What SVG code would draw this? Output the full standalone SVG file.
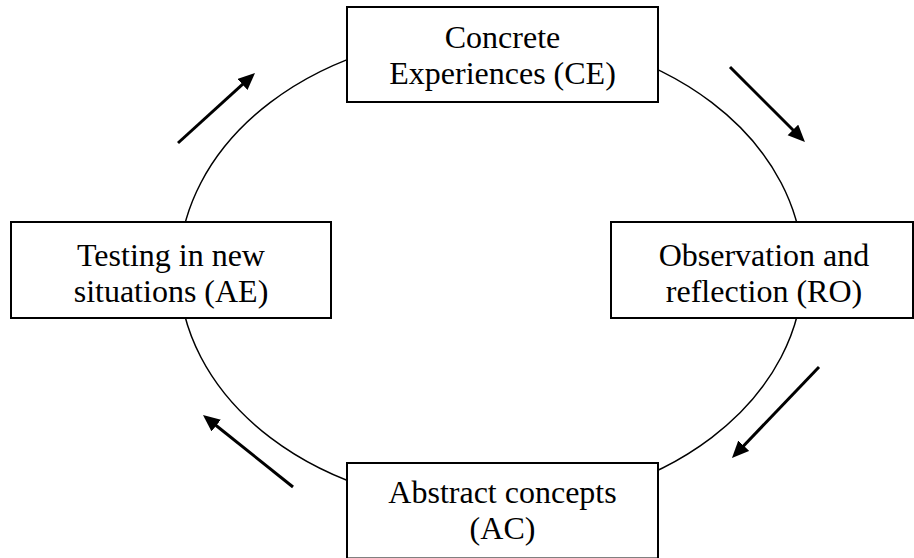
<svg xmlns="http://www.w3.org/2000/svg" width="914" height="558" viewBox="0 0 914 558">
  <style>
    .box { fill: #ffffff; stroke: #000000; stroke-width: 2; }
    .label { font-family: "Liberation Serif", "Times New Roman", serif; font-size: 32px; fill: #000000; text-anchor: middle; }
    .cycle { fill: none; stroke: #000000; stroke-width: 1.5; }
    .arrow { fill: none; stroke: #000000; stroke-width: 3; marker-end: url(#head); }
  </style>
  <defs>
    <marker id="head" markerUnits="userSpaceOnUse" markerWidth="18" markerHeight="16" refX="9" refY="7.5" orient="auto">
      <path d="M0,0 L17,7.5 L0,15 Z" fill="#000000"/>
    </marker>
  </defs>
  <rect width="914" height="558" fill="#ffffff"/>

  <g id="connectors">
    <ellipse class="cycle" cx="491" cy="270" rx="312" ry="237"/>
    <line class="arrow" x1="178" y1="143" x2="249.1" y2="78.4"/>
    <line class="arrow" x1="730" y1="67" x2="799.3" y2="136.3"/>
    <line class="arrow" x1="819" y1="367" x2="737.5" y2="452.2"/>
    <line class="arrow" x1="293" y1="487" x2="209.2" y2="420"/>
  </g>

  <g id="node-ce">
    <rect class="box" x="347" y="7" width="311" height="95"/>
    <text class="label" x="502.5" y="48">Concrete</text>
    <text class="label" x="502.5" y="84">Experiences (CE)</text>
  </g>

  <g id="node-ro">
    <rect class="box" x="611" y="222" width="302" height="96"/>
    <text class="label" x="764" y="265.5">Observation and</text>
    <text class="label" x="764" y="301.5">reflection (RO)</text>
  </g>

  <g id="node-ac">
    <rect class="box" x="347" y="463" width="311" height="95.5"/>
    <text class="label" x="502.5" y="503">Abstract concepts</text>
    <text class="label" x="502.5" y="539">(AC)</text>
  </g>

  <g id="node-ae">
    <rect class="box" x="11" y="222" width="320" height="96"/>
    <text class="label" x="171" y="265.5">Testing in new</text>
    <text class="label" x="171" y="301.5">situations (AE)</text>
  </g>
</svg>
